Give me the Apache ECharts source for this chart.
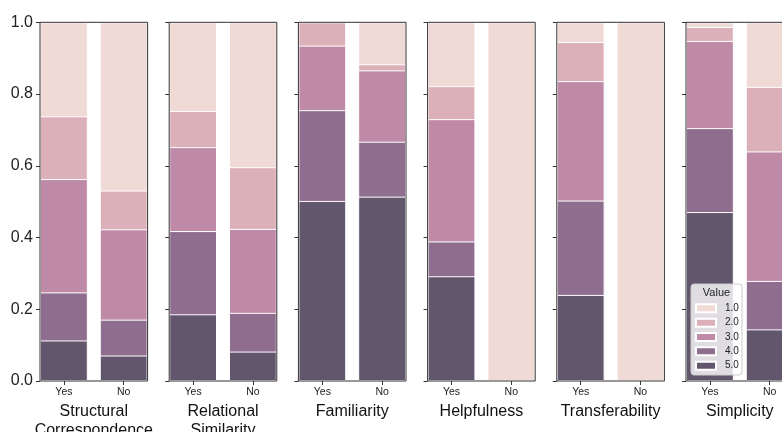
<!DOCTYPE html>
<html>
<head>
<meta charset="utf-8">
<script src="https://cdn.jsdelivr.net/npm/echarts@6/dist/echarts.min.js"></script>
<style>html,body{margin:0;padding:0;background:#fff}#c{width:782px;height:432px}</style>
</head>
<body>
<div id="c"></div>
<script>
const panels = ['Structural\nCorrespondence', 'Relational\nSimilarity', 'Familiarity', 'Helpfulness', 'Transferability', 'Simplicity'];
const groups = ['Yes', 'No'];
const levels = ['1.0', '2.0', '3.0', '4.0', '5.0'];
const yTicks = [0, 0.2, 0.4, 0.6, 0.8, 1.0];
// share of each rating per panel: [Yes, No]
const share1 = [[0.262, 0.469], [0.247, 0.404], [0, 0.117], [0.178, 1], [0.055, 1], [0.013, 0.180]];
const share2 = [[0.175, 0.108], [0.101, 0.172], [0.065, 0.017], [0.092, 0], [0.109, 0], [0.039, 0.180]];
const share3 = [[0.316, 0.252], [0.234, 0.234], [0.180, 0.199], [0.341, 0], [0.333, 0], [0.243, 0.361]];
const share4 = [[0.134, 0.100], [0.232, 0.108], [0.253, 0.153], [0.097, 0], [0.263, 0], [0.234, 0.135]];
const share5 = [[0.113, 0.071], [0.186, 0.082], [0.502, 0.514], [0.292, 0], [0.240, 0], [0.471, 0.144]];
const shares = [share1, share2, share3, share4, share5];
const colors = ['#efdad6', '#dcb0b9', '#bf8aa8', '#8f6d8e', '#62566d'];

const FONT = '"Liberation Sans", Arial, sans-serif';
const gridLeft0 = 40, gridStep = 129.2, gridW = 107.6, gridTop = 22.3, gridH = 358.7;
const barW = gridW * 0.8 / 1.8;

const grids = [], xAxes = [], yAxes = [], series = [];
panels.forEach((p, i) => {
  grids.push({left: gridLeft0 + gridStep * i, top: gridTop, width: gridW, height: gridH,
    outerBoundsMode: 'none', containLabel: false,
    show: true, borderColor: '#333', borderWidth: 1, backgroundColor: 'transparent', z: 10});
  xAxes.push({gridIndex: i, type: 'value', min: -0.4, max: 1.4,
    axisLine: {show: false, onZero: false}, splitLine: {show: false},
    axisTick: {show: true, customValues: [0, 1], length: 4, lineStyle: {color: '#333'}},
    axisLabel: {customValues: [0, 1], formatter: v => groups[Math.round(v)], fontSize: 10.5, margin: 5.5, color: '#222', fontFamily: FONT},
    name: p, nameLocation: 'middle', nameGap: 17,
    nameTextStyle: {fontSize: 16, lineHeight: 19, color: '#111', fontFamily: FONT}});
  yAxes.push({gridIndex: i, type: 'value', min: 0, max: 1, interval: 0.2,
    axisLine: {show: false, onZero: false}, splitLine: {show: false},
    axisTick: {show: true, length: 4, lineStyle: {color: '#333'}},
    axisLabel: {show: i === 0, formatter: v => v.toFixed(1), fontSize: 16, margin: 7, color: '#222', fontFamily: FONT}});
  // fill-stacked bars: draw each level from 0 up to its cumulative share (top level first)
  for (let L = 0; L < 5; L++) {
    const top = groups.map((g, k) => {
      let s = 0;
      for (let m = L; m < 5; m++) s += shares[m][i][k];
      return shares[L][i][k] === 0 ? '-' : Math.min(1, s);
    });
    series.push({type: 'bar', name: levels[L], xAxisIndex: i, yAxisIndex: i,
      barWidth: barW, barGap: '-100%',
      data: groups.map((g, k) => [k, top[k]]),
      itemStyle: {color: colors[L], borderColor: '#ffffff', borderWidth: 1},
      emphasis: {disabled: true}, silent: true});
  }
});

const chart = echarts.init(document.getElementById('c'), null, {renderer: 'canvas'});
chart.setOption({
  animation: false,
  textStyle: {fontFamily: FONT},
  grid: grids, xAxis: xAxes, yAxis: yAxes, series: series,
  legend: {data: levels, orient: 'vertical', left: 695, top: 302.3, padding: 0,
    itemWidth: 20, itemHeight: 8, itemGap: 2.35, icon: 'rect', selectedMode: false, z: 12,
    textStyle: {fontSize: 10, lineHeight: 12, color: '#222', padding: [0, 0, 0, 4], fontFamily: FONT}},
  graphic: [
    {type: 'rect', z: 11, shape: {x: 691, y: 284, width: 51, height: 91, r: 3},
      style: {fill: 'rgba(255,255,255,0.8)', stroke: '#cccccc', lineWidth: 1}, silent: true},
    {type: 'text', z: 12, x: 716.5, y: 293, style: {text: 'Value', fontSize: 11, fill: '#222', textAlign: 'center', textVerticalAlign: 'middle', fontFamily: FONT}, silent: true}
  ]
});
</script>
</body>
</html>
